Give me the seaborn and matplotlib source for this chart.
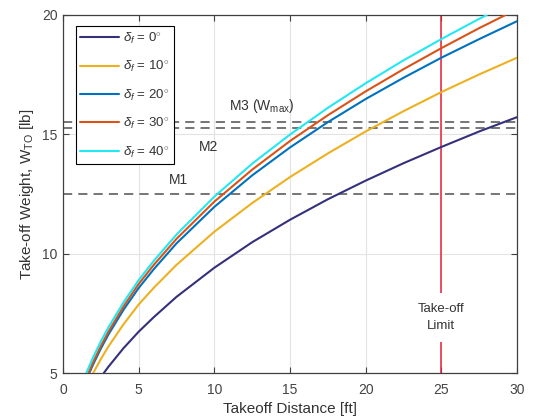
import matplotlib
matplotlib.use("Agg")
import matplotlib.pyplot as plt
import seaborn as sns
import pandas as pd

# Takeoff distance [ft] vs. takeoff weight [lb] for each flap deflection
flap_labels = [r"$\delta_f$ = 0$^{\circ}$", r"$\delta_f$ = 10$^{\circ}$",
               r"$\delta_f$ = 20$^{\circ}$", r"$\delta_f$ = 30$^{\circ}$",
               r"$\delta_f$ = 40$^{\circ}$"]

dist_f0 = [2.70, 3, 4, 5, 6, 7.5, 10, 12.5, 15, 17.5, 20, 22.5, 25, 27.5, 30]
weight_f0 = [5.0, 5.26, 6.04, 6.73, 7.34, 8.19, 9.41, 10.48, 11.42, 12.28, 13.06, 13.79, 14.47, 15.12, 15.72]

dist_f10 = [2.0, 2.5, 3, 4, 5, 6, 7.5, 10, 12.5, 15, 17.5, 20, 22.5, 25, 27.5, 30]
weight_f10 = [5.0, 5.58, 6.11, 7.04, 7.87, 8.57, 9.53, 10.92, 12.12, 13.21, 14.20, 15.12, 15.97, 16.77, 17.51, 18.21]

dist_f20 = [1.74, 2, 2.5, 3, 4, 5, 6, 7.5, 10, 12.5, 15, 17.5, 20, 22.5, 25, 27.5, 30]
weight_f20 = [5.0, 5.37, 6.02, 6.61, 7.65, 8.56, 9.35, 10.43, 11.96, 13.28, 14.45, 15.51, 16.48, 17.37, 18.21, 18.99, 19.74]

dist_f30 = [1.68, 2, 2.5, 3, 4, 5, 6, 7.5, 10, 12.5, 15, 17.5, 20, 22.5, 25, 27.5, 29.24]
weight_f30 = [5.0, 5.47, 6.13, 6.73, 7.79, 8.73, 9.53, 10.62, 12.18, 13.52, 14.72, 15.80, 16.80, 17.73, 18.61, 19.45, 20.0]

dist_f40 = [1.54, 2, 2.5, 3, 4, 5, 6, 7.5, 10, 12.5, 15, 17.5, 20, 22.5, 25, 27.5, 28.0]
weight_f40 = [5.0, 5.67, 6.32, 6.91, 7.96, 8.89, 9.70, 10.80, 12.39, 13.77, 14.99, 16.11, 17.14, 18.10, 18.99, 19.84, 20.0]

line_colors = ["#35307a", "#EDB120", "#0072BD", "#D95319", "#22E8F2"]

# Weight limits (dashed) and the takeoff distance limit (red)
limit_names = ["M1", "M2", r"M3 (W$_{\mathrm{max}}$)"]
limit_weights = [12.5, 15.25, 15.5]
limit_label_pos = [(7.0, 13.07), (9.0, 14.47), (11.0, 16.2)]
takeoff_limit = 25

x_ticks = [0, 5, 10, 15, 20, 25, 30]
y_ticks = [5, 10, 15, 20]

sns.set_theme(style="white")
plt.rcParams["font.family"] = ["Liberation Sans", "DejaVu Sans"]
plt.rcParams["mathtext.fontset"] = "custom"
plt.rcParams["mathtext.rm"] = "Liberation Sans"
plt.rcParams["mathtext.it"] = "Liberation Sans:italic"

frames = []
for lab, d, w in zip(flap_labels,
                     [dist_f0, dist_f10, dist_f20, dist_f30, dist_f40],
                     [weight_f0, weight_f10, weight_f20, weight_f30, weight_f40]):
    frames.append(pd.DataFrame({"dist": d, "weight": w, "flap": lab}))
df = pd.concat(frames, ignore_index=True)

fig = plt.figure(figsize=(5.36, 4.20), dpi=100)
ax = fig.add_axes([0.1175, 0.1119, 0.8471, 0.8524])

axis_gray = "#404040"

for yv in limit_weights:
    ax.axhline(yv, color="#505050", lw=1.1, ls=(0, (6, 4)), zorder=2)

sns.lineplot(data=df, x="dist", y="weight", hue="flap",
             palette=dict(zip(flap_labels, line_colors)),
             hue_order=flap_labels, lw=1.5, ax=ax, zorder=3, sort=False)

ax.axvline(takeoff_limit, color="#E8203A", lw=1.1, zorder=2)
ax.text(takeoff_limit, 7.32, "Take-off\nLimit", ha="center", va="center",
        fontsize=9.5, color="#333333", linespacing=1.55, zorder=4,
        bbox=dict(fc="white", ec="none", pad=7))

for name, (tx, ty) in zip(limit_names, limit_label_pos):
    ax.text(tx, ty, name, ha="left", va="center", fontsize=10, color="#333333", zorder=4)

ax.set_xlim(0, 30)
ax.set_ylim(5, 20)
ax.set_xticks(x_ticks)
ax.set_yticks(y_ticks)
ax.grid(True, color="#e3e3e3", lw=0.8)
ax.set_axisbelow(True)
ax.tick_params(direction="in", length=4, width=0.8, colors=axis_gray,
               labelsize=10, top=True, right=True, bottom=True, left=True,
               labelcolor="#444444")
ax.tick_params(axis="x", pad=7)
ax.tick_params(axis="y", pad=4)
for sp in ax.spines.values():
    sp.set_color(axis_gray)
    sp.set_linewidth(0.9)

ax.set_xlabel("Takeoff Distance [ft]", fontsize=11, color="#333333", labelpad=4)
ax.set_ylabel(r"Take-off Weight, W$_{\mathrm{TO}}$ [lb]", fontsize=11,
              color="#333333", labelpad=4)

handles, labels = ax.get_legend_handles_labels()
leg = ax.legend(handles, labels, loc="upper left", bbox_to_anchor=(0.0286, 0.970),
                borderaxespad=0, frameon=True, fancybox=False, edgecolor="black",
                framealpha=1, fontsize=9.5, handlelength=2.95, handletextpad=0.3,
                labelspacing=0.95, borderpad=0.32, title=None)
leg.get_frame().set_linewidth(0.8)
for t in leg.get_texts():
    t.set_color("#333333")

fig.savefig("out.png", dpi=100, facecolor="white")
